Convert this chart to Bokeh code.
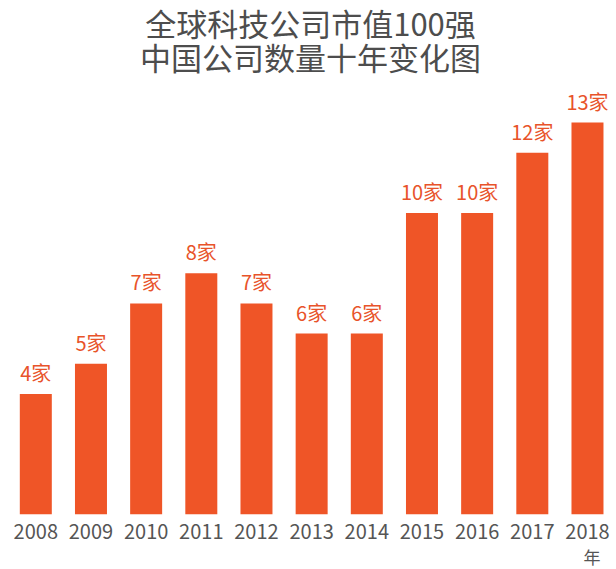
from bokeh.plotting import figure
from bokeh.models import ColumnDataSource, Label, FixedTicker, Range1d, Title
from bokeh.core.properties import value
from bokeh.embed import file_html
from bokeh.resources import INLINE

years = [2008, 2009, 2010, 2011, 2012, 2013, 2014, 2015, 2016, 2017, 2018]
counts = [4, 5, 7, 8, 7, 6, 6, 10, 10, 12, 13]
value_labels = [f"{c}家" for c in counts]
year_labels = [str(y) for y in years]
title_lines = ["全球科技公司市值100强", "中国公司数量十年变化图"]
unit_label = "年"

BAR = "#EF5527"
TXT = "#555555"
FONT = "Noto Sans CJK SC"

src = ColumnDataSource(dict(x=years, top=counts, lab=value_labels))

p = figure(width=616, height=569, output_backend="svg", toolbar_location=None,
           x_range=Range1d(2007.36, 2018.526), y_range=Range1d(0, 17.05),
           min_border_left=0, min_border_right=0, min_border_top=0, min_border_bottom=55)
p.outline_line_color = None
p.grid.visible = False
p.yaxis.visible = False
p.background_fill_color = "white"
p.border_fill_color = "white"

p.vbar(x="x", top="top", width=0.58, bottom=0, source=src, fill_color=BAR, line_color=None)
p.text(x="x", y="top", text="lab", source=src, text_align="center", text_baseline="bottom",
       y_offset=-7, text_font=value(FONT), text_font_size="20px", text_color="#E8532A")

ax = p.xaxis[0]
ax.ticker = FixedTicker(ticks=years)
ax.major_label_overrides = {y: s for y, s in zip(years, year_labels)}
ax.axis_line_color = None
ax.major_tick_line_color = None
ax.minor_tick_line_color = None
ax.major_tick_out = 0
ax.major_label_standoff = 9
ax.major_label_text_font = FONT
ax.major_label_text_font_size = "20px"
ax.major_label_text_color = TXT

p.add_layout(Title(text=unit_label, align="right", offset=16, standoff=0,
                   text_font=FONT, text_font_size="17px", text_color=TXT,
                   text_font_style="normal"), "below")

for i, line in enumerate(title_lines):
    p.add_layout(Label(x=310, y=492 - i * 34, x_units="screen", y_units="screen",
                       text=line, text_align="center", text_baseline="middle",
                       text_font=FONT, text_font_size="31px", text_color="#4d4d4d"))

open("out.html", "w").write(file_html(p, INLINE))
